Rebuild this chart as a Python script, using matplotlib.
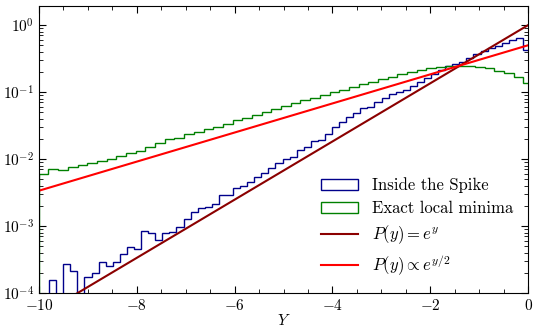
import numpy as np
import matplotlib
matplotlib.use('Agg')
import matplotlib.pyplot as plt
from matplotlib.ticker import MultipleLocator

plt.rcParams['font.family'] = 'serif'
plt.rcParams['font.serif'] = ['cmr10']
plt.rcParams['mathtext.fontset'] = 'cm'
plt.rcParams['axes.formatter.use_mathtext'] = True
plt.rcParams['font.size'] = 11

# histogram of Y for points inside the spike (70 bins)
spike_edges = np.linspace(-10.078, 0.037, 71)
spike_vals = [0, 0, 1.56e-4, 0, 2.74e-4, 2.13e-4, 0, 1.75e-4, 1.97e-4, 2.94e-4,
              2.56e-4, 2.94e-4, 3.86e-4, 4.91e-4, 4.54e-4, 8.5e-4, 7.8e-4, 6.2e-4, 7.9e-4, 8.2e-4,
              9.8e-4, 1.26e-3, 1.60e-3, 1.84e-3, 1.94e-3, 2.13e-3, 2.90e-3, 2.90e-3, 3.73e-3, 3.96e-3,
              4.58e-3, 5.44e-3, 6.12e-3, 7.42e-3, 8.63e-3, 1.0e-2, 1.08e-2, 1.36e-2, 1.50e-2, 1.86e-2,
              1.92e-2, 2.36e-2, 3.03e-2, 3.6e-2, 4.19e-2, 4.91e-2, 5.71e-2, 6.04e-2, 7.17e-2, 8.05e-2,
              9.25e-2, 0.100, 0.107, 0.123, 0.139, 0.160, 0.184, 0.213, 0.247, 0.259,
              0.284, 0.325, 0.365, 0.409, 0.449, 0.492, 0.532, 0.597, 0.647, 0.428]

# histogram of Y for exact local minima (51 bins)
minima_edges = np.linspace(-10.0, 0.098, 52)
minima_vals = [0.00597, 0.00702, 0.00685, 0.00752, 0.00813, 0.00863, 0.00944, 0.0102, 0.0112, 0.0122,
               0.0133, 0.0154, 0.0172, 0.0197, 0.0208, 0.0234, 0.0251, 0.0278, 0.0297, 0.0333,
               0.0382, 0.0405, 0.0454, 0.0508, 0.0557, 0.0625, 0.0692, 0.0760, 0.0822, 0.0902,
               0.100, 0.109, 0.121, 0.131, 0.143, 0.155, 0.169, 0.186, 0.202, 0.214,
               0.226, 0.235, 0.245, 0.247, 0.245, 0.239, 0.226, 0.209, 0.192, 0.170,
               0.138]

# reference curves
y = np.linspace(-10, 0, 200)
p_exp = np.exp(y)
p_half = 0.5 * np.exp(y / 2)

fig, ax = plt.subplots(figsize=(5.39, 3.35), dpi=100)
fig.subplots_adjust(left=0.072, right=0.98, bottom=0.125, top=0.981)

ax.set_yscale('log')
ax.hist(spike_edges[:-1], bins=spike_edges, weights=spike_vals, histtype='step',
        color='darkblue', lw=1, label='Inside the Spike')
ax.hist(minima_edges[:-1], bins=minima_edges, weights=minima_vals, histtype='step',
        color='green', lw=1, label='Exact local minima')
ax.plot(y, p_exp, color='darkred', lw=1.5, label=r'$P(y) = e^y$')
ax.plot(y, p_half, color='red', lw=1.5, label=r'$P(y) \propto e^{y/2}$')

ax.set_xlim(-10, 0)
ax.set_ylim(1e-4, 1.9)
ax.set_xlabel('$Y$', labelpad=0)
ax.xaxis.set_minor_locator(MultipleLocator(0.5))
ax.tick_params(which='both', direction='in', top=True, right=True)
ax.tick_params(which='major', length=5)
ax.tick_params(which='minor', length=3)

ax.legend(loc='lower right', frameon=False, fontsize=12, labelspacing=0.45,
          handlelength=2.2, handletextpad=0.85, borderaxespad=0.5)

plt.savefig('out.png')
